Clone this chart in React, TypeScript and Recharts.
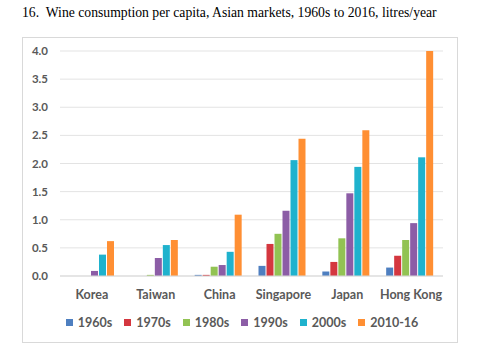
import React from "react";
import { BarChart, Bar, XAxis, YAxis, CartesianGrid, Legend } from "recharts";

const categories = ["Korea", "Taiwan", "China", "Singapore", "Japan", "Hong Kong"];
const s1960s = [0, 0, 0.02, 0.18, 0.08, 0.15];
const s1970s = [0, 0, 0.02, 0.57, 0.25, 0.36];
const s1980s = [0, 0.02, 0.165, 0.75, 0.67, 0.64];
const s1990s = [0.09, 0.32, 0.195, 1.16, 1.47, 0.94];
const s2000s = [0.38, 0.55, 0.43, 2.06, 1.94, 2.11];
const s2010 = [0.62, 0.64, 1.09, 2.44, 2.59, 4.0];
const seriesNames = ["1960s", "1970s", "1980s", "1990s", "2000s", "2010-16"];
const seriesValues = [s1960s, s1970s, s1980s, s1990s, s2000s, s2010];
const colors = ["#4E7FC0", "#D4373F", "#92C353", "#8C5DA6", "#1FB2CD", "#FF8F33"];
const yTicks = [0, 0.5, 1, 1.5, 2, 2.5, 3, 3.5, 4];
const title = "16.  Wine consumption per capita, Asian markets, 1960s to 2016, litres/year";

const data = categories.map((c, i) => {
  const row: Record<string, string | number> = { name: c };
  seriesNames.forEach((s, j) => {
    row[s] = seriesValues[j][i];
  });
  return row;
});

const font = "Lato, 'Open Sans', sans-serif";

const LegendContent = (props: any) => {
  const payload = props.payload || [];
  return (
    <div style={{ display: "flex", justifyContent: "center", paddingTop: 3, fontFamily: font, fontWeight: 700, fontSize: 12.5, color: "#595959" }}>
      {payload.map((p: any) => (
        <div key={p.value} style={{ display: "flex", alignItems: "center", marginRight: 12 }}>
          <span style={{ display: "inline-block", width: 7, height: 7, background: p.color, marginRight: 5 }} />
          <span>{p.value}</span>
        </div>
      ))}
    </div>
  );
};

export default function App() {
  return (
    <div style={{ position: "absolute", left: 0, top: 0, width: 480, height: 352, background: "#fff" }}>
      <div
        style={{
          position: "absolute",
          left: 22,
          top: 5,
          lineHeight: "16px",
          fontFamily: "'Liberation Serif', 'Times New Roman', serif",
          fontSize: 13.7,
          whiteSpace: "pre",
          color: "#000",
        }}
      >
        {title}
      </div>
      <div
        style={{
          position: "absolute",
          left: 22,
          top: 37,
          width: 436,
          height: 306,
          border: "1px solid #d9d9d9",
          boxSizing: "border-box",
        }}
      >
        <BarChart
          width={434}
          height={304}
          data={data}
          margin={{ top: 13, right: 14, left: 0, bottom: 8 }}
          barCategoryGap={7}
          barGap={1}
        >
          <CartesianGrid vertical={false} stroke="#e3e3e3" />
          <XAxis
            dataKey="name"
            tickLine={false}
            axisLine={{ stroke: "#d9d9d9" }}
            tickMargin={8}
            height={36}
            interval={0}
            tick={{ fill: "#595959", fontSize: 12.5, fontWeight: 700, fontFamily: font }}
          />
          <YAxis
            width={37}
            domain={[0, 4]}
            ticks={yTicks}
            tickFormatter={(v: number) => v.toFixed(1)}
            tickLine={false}
            axisLine={false}
            tickMargin={6}
            tick={{ fill: "#595959", fontSize: 11.5, fontWeight: 700, fontFamily: font }}
          />
          <Legend verticalAlign="bottom" height={22} content={<LegendContent />} wrapperStyle={{ left: 8, width: 434 }} />
          {seriesNames.map((s, j) => (
            <Bar key={s} dataKey={s} fill={colors[j]} isAnimationActive={false} />
          ))}
        </BarChart>
      </div>
    </div>
  );
}
